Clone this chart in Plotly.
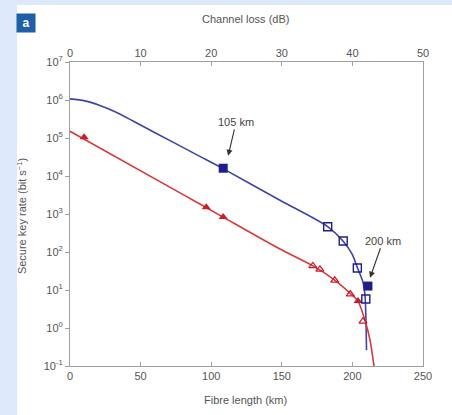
import math
import plotly.graph_objects as go

# Theoretical secure key rate curves (fibre length in km, rate in bit/s)
blue_curve_km = [0, 10.6, 21.2, 31.9, 44.6, 60.2, 89.9, 108.4, 148.7, 182.7, 193.3, 199.7,
                 203.3, 207.5, 208.9, 209.6, 210.0]
blue_curve_rate = [1.07e6, 9.5e5, 7.2e5, 4.9e5, 2.8e5, 1.38e5, 3.6e4, 1.56e4, 2.3e3, 460, 195,
                   89, 41, 16, 7.4, 1.6, 0.26]

red_curve_km = [0, 77.9, 108.4, 148.7, 172.1, 187.7, 198.3, 204.0, 208.9, 212.5, 215.3]
red_curve_rate = [1.5e5, 3.6e3, 830, 120, 43, 18, 8.3, 5.1, 1.6, 0.48, 0.1]

# Measured points (channel loss in dB, rate in bit/s)
blue_filled_db = [21.7, 42.2]
blue_filled_rate = [1.6e4, 12.7]
blue_open_db = [36.5, 38.7, 40.7, 41.9]
blue_open_rate = [460, 195, 38, 5.8]

red_filled_db = [2.0, 19.3, 21.7, 40.8]
red_filled_rate = [1.05e5, 1500, 830, 5.1]
red_open_db = [34.4, 35.4, 37.5, 39.7, 41.5]
red_open_rate = [43, 35, 18, 7.8, 1.5]

# Callouts pointing at the two filled squares (arrow tip in dB / bit/s)
callout_labels = ["105 km", "200 km"]
callout_db = [22.4, 42.5]
callout_rate = [3.4e4, 21]

km_ticks = [0, 50, 100, 150, 200, 250]
db_ticks = [0, 10, 20, 30, 40, 50]
rate_ticks = [1e-1, 1, 10, 100, 1e3, 1e4, 1e5, 1e6, 1e7]
rate_tick_text = ["10<sup>-1</sup>", "10<sup>0</sup>", "10<sup>1</sup>", "10<sup>2</sup>",
                  "10<sup>3</sup>", "10<sup>4</sup>", "10<sup>5</sup>", "10<sup>6</sup>",
                  "10<sup>7</sup>"]

BLUE_LINE = "#3f44a6"
BLUE_MARK = "#1e1f8c"
RED_LINE = "#d9393b"
RED_MARK = "#c81e2a"
AXIS = "#a0a0a0"
TEXT = "#555555"
FONT = "Liberation Sans"

fig = go.Figure()

fig.add_trace(go.Scatter(x=blue_curve_km, y=blue_curve_rate, mode="lines",
                         line=dict(color=BLUE_LINE, width=1.6, shape="spline", smoothing=0.8),
                         xaxis="x", yaxis="y", showlegend=False))
fig.add_trace(go.Scatter(x=red_curve_km, y=red_curve_rate, mode="lines",
                         line=dict(color=RED_LINE, width=1.6, shape="spline", smoothing=0.6),
                         xaxis="x", yaxis="y", showlegend=False))

fig.add_trace(go.Scatter(x=red_open_db, y=red_open_rate, mode="markers",
                         marker=dict(symbol="triangle-up-open", size=7, color=RED_MARK,
                                     line=dict(width=1.2, color=RED_MARK)),
                         xaxis="x2", yaxis="y", showlegend=False))
fig.add_trace(go.Scatter(x=red_filled_db, y=red_filled_rate, mode="markers",
                         marker=dict(symbol="triangle-up", size=8, color=RED_MARK),
                         xaxis="x2", yaxis="y", showlegend=False))
fig.add_trace(go.Scatter(x=blue_open_db, y=blue_open_rate, mode="markers",
                         marker=dict(symbol="square-open", size=8, color=BLUE_MARK,
                                     line=dict(width=1.4, color="#2b30a8")),
                         xaxis="x2", yaxis="y", showlegend=False))
fig.add_trace(go.Scatter(x=blue_filled_db, y=blue_filled_rate, mode="markers",
                         marker=dict(symbol="square", size=9, color=BLUE_MARK),
                         xaxis="x2", yaxis="y", showlegend=False))

annotations = []
for label, xd, yr, ax, ay in zip(callout_labels, callout_db, callout_rate, [8, 13], [-34, -37]):
    annotations.append(dict(x=xd, y=math.log10(yr), xref="x2", yref="y", text=label,
                            showarrow=True, ax=ax, ay=ay, arrowhead=2, arrowsize=1.1,
                            arrowwidth=1.1, arrowcolor="#333333", standoff=0,
                            font=dict(family=FONT, size=11, color="#444444")))

annotations += [
    dict(x=0.496, y=1.141, xref="paper", yref="paper", text="Channel loss (dB)",
         xanchor="center", yanchor="middle", showarrow=False,
         font=dict(family=FONT, size=11, color=TEXT)),
    dict(x=0.496, y=-0.112, xref="paper", yref="paper", text="Fibre length (km)",
         xanchor="center", yanchor="middle", showarrow=False,
         font=dict(family=FONT, size=11, color=TEXT)),
    dict(x=-0.136, y=0.493, xref="paper", yref="paper", text="Secure key rate (bit s<sup>−1</sup>)",
         xanchor="center", yanchor="middle", textangle=-90, showarrow=False,
         font=dict(family=FONT, size=11, color=TEXT)),
    dict(x=-0.1245, y=1.129, xref="paper", yref="paper", text="<b>a</b>",
         xanchor="center", yanchor="middle", showarrow=False, width=18, height=18,
         bgcolor="#1f5fa6", borderpad=0, font=dict(family=FONT, size=12, color="white")),
]

shapes = [
    # white panel over the light blue page
    dict(type="rect", xref="paper", yref="paper", x0=-0.150, x1=1.10, y0=-0.17, y1=1.1875,
         fillcolor="white", line=dict(width=0), layer="below"),
]

fig.update_layout(
    width=452, height=415,
    margin=dict(l=70, r=29, t=62, b=49),
    paper_bgcolor="#dde9fa",
    plot_bgcolor="white",
    font=dict(family=FONT, size=11, color=TEXT),
    xaxis=dict(range=[0, 250], tickvals=km_ticks, ticks="inside", ticklen=4, tickcolor=AXIS,
               showgrid=False, zeroline=False, showline=True, linecolor=AXIS, linewidth=1,
               mirror=False, tickfont=dict(size=11, color=TEXT)),
    xaxis2=dict(range=[0, 50], tickvals=db_ticks, overlaying="x", side="top", anchor="y",
                ticks="inside", ticklen=4, tickcolor=AXIS, showgrid=False, zeroline=False,
                showline=True, linecolor=AXIS, linewidth=1, tickfont=dict(size=11, color=TEXT)),
    yaxis=dict(type="log", range=[-1, 7], tickvals=rate_ticks, ticktext=rate_tick_text,
               ticks="outside", ticklen=4, tickcolor=AXIS, showgrid=False, zeroline=False,
               showline=True, linecolor=AXIS, linewidth=1, mirror=True,
               tickfont=dict(size=11, color=TEXT)),
    annotations=annotations,
    shapes=shapes,
)

fig.write_html("out.html")
